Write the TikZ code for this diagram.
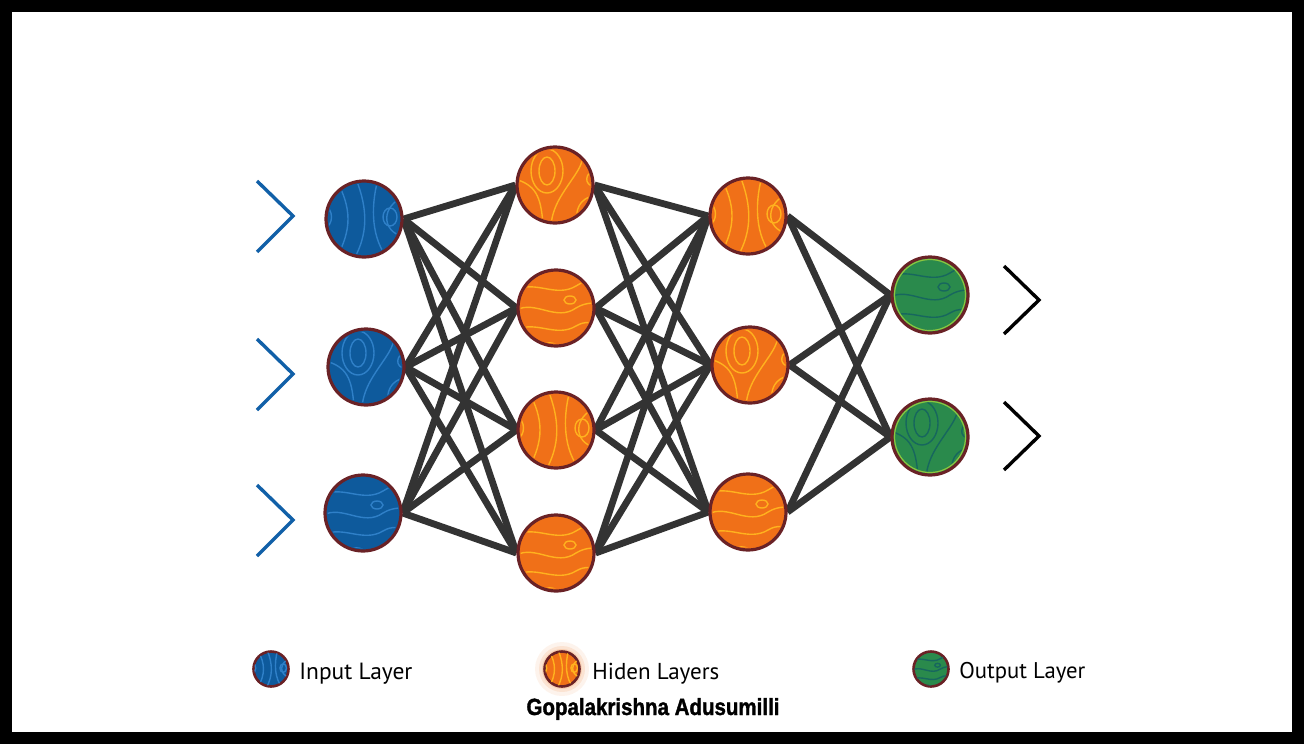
\documentclass[tikz,border=0pt]{standalone}
\usepackage{graphicx}
\usepackage{fontspec}
\setmainfont{PT Sans}
\newfontfamily\authorfont[FakeBold=1.6]{Liberation Sans}
\usetikzlibrary{backgrounds}
\definecolor{inblue}{HTML}{0E5A9C}
\definecolor{inline}{HTML}{2F80C8}
\definecolor{hidor}{HTML}{F07018}
\definecolor{hidline}{HTML}{FFB21E}
\definecolor{outgr}{HTML}{2A8A4C}
\definecolor{ogline}{HTML}{17675E}
\definecolor{ogrim}{HTML}{8CC63F}
\definecolor{rim}{HTML}{6A2226}
\definecolor{edgegray}{HTML}{333333}
\definecolor{chevblue}{HTML}{1160A8}
\newcommand\patA{%
  \draw (-28,-40) .. controls (-12,-10) and (-12,10) .. (-28,40);
  \draw (-8,-40) .. controls (4,-10) and (4,15) .. (-10,40);
  \draw (14,-40) .. controls (6,-10) and (8,20) .. (24,40);
  \draw (26,-2) ellipse (7 and 9);
  \draw (40,-22) .. controls (18,-14) and (16,12) .. (40,18);
  \draw (-40,-14) .. controls (-30,-10) and (-30,6) .. (-40,10);}
\newcommand\patB{%
  \draw (-8,-14) ellipse (8 and 14);
  \draw (-8,-14) ellipse (16 and 22);
  \draw (-40,-6) .. controls (-20,0) and (-14,10) .. (-12,40);
  \draw (-4,40) .. controls (-2,20) and (8,8) .. (20,-10) .. controls (28,-22) and (30,-30) .. (26,-40);
  \draw (40,10) .. controls (24,14) and (20,24) .. (22,40);
  \draw (40,-16) .. controls (30,-12) and (28,0) .. (40,2);}
\newcommand\patC{%
  \draw (-40,-18) .. controls (-20,-28) and (0,-10) .. (20,-22) .. controls (30,-28) and (36,-30) .. (40,-30);
  \draw (-40,2) .. controls (-20,-8) and (0,14) .. (20,0) .. controls (30,-6) and (36,-4) .. (40,-6);
  \draw (-40,22) .. controls (-20,12) and (0,30) .. (20,18) .. controls (30,12) and (36,16) .. (40,14);
  \draw (14,-8) ellipse (6 and 4);
  \draw (-20,40) .. controls (-14,32) and (0,34) .. (6,40);}
\newcommand\deco[4]{%
  \begin{scope}[shift={(#1.center)},scale=#4]
    \clip (0,0) circle (35.5);
    \begin{scope}[draw=#2,line width=0.7pt]
      #3
    \end{scope}
  \end{scope}}
\begin{document}
\begin{tikzpicture}[x=0.5pt,y=-0.5pt,
  neuron/.style={circle,draw=rim,line width=1.6pt,minimum size=38pt,inner sep=0pt},
  innode/.style={neuron,fill=inblue},
  hidnode/.style={neuron,fill=hidor},
  outnode/.style={neuron,fill=outgr},
  legnode/.style={minimum size=17.5pt,line width=1.3pt},
  link/.style={draw=edgegray,line width=3.4pt},
  chev/.style={line width=1.7pt,line join=miter},
  legtext/.style={anchor=base west,inner sep=0pt,font=\fontsize{12}{14}\selectfont}]
\useasboundingbox (0,0) rectangle (1304,744);
% neurons
\node[innode] (i1) at (364,219) {};
\node[innode] (i2) at (366,367) {};
\node[innode] (i3) at (363,513) {};
\node[hidnode] (h1) at (555,185) {};
\node[hidnode] (h2) at (556,308) {};
\node[hidnode] (h3) at (556,430) {};
\node[hidnode] (h4) at (556,553) {};
\node[hidnode] (k1) at (748,216) {};
\node[hidnode] (k2) at (750,365) {};
\node[hidnode] (k3) at (748,512) {};
\node[outnode] (o1) at (930,295) {};
\node[outnode] (o2) at (930,437) {};
% background frame and links
\begin{pgfonlayer}{background}
  \fill[black] (0,0) rectangle (1304,744);
  \fill[white] (12,12) rectangle (1292,732);
  \foreach \a in {i1,i2,i3}{\foreach \b in {h1,h2,h3,h4}{\draw[link] (\a.east) -- (\b.west);}}
  \foreach \a in {h1,h2,h3,h4}{\foreach \b in {k1,k2,k3}{\draw[link] (\a.east) -- (\b.west);}}
  \foreach \a in {k1,k2,k3}{\foreach \b in {o1,o2}{\draw[link] (\a.east) -- (\b.west);}}
\end{pgfonlayer}
% contour decorations
\deco{i1}{inline}{\patA}{1}
\deco{i2}{inline}{\patB}{1}
\deco{i3}{inline}{\patC}{1}
\deco{h1}{hidline}{\patB}{1}
\deco{h2}{hidline}{\patC}{1}
\deco{h3}{hidline}{\patA}{1}
\deco{h4}{hidline}{\patC}{1}
\deco{k1}{hidline}{\patA}{1}
\deco{k2}{hidline}{\patB}{1}
\deco{k3}{hidline}{\patC}{1}
\deco{o1}{ogline}{\patC}{1}
\deco{o2}{ogline}{\patB}{1}
\draw[ogrim,line width=0.6pt] (o1.center) circle (35.5);
\draw[ogrim,line width=0.6pt] (o2.center) circle (35.5);
% chevrons
\draw[chev,chevblue] (257,181) -- (293,216) -- (257,252);
\draw[chev,chevblue] (257,339) -- (293,374) -- (257,410);
\draw[chev,chevblue] (257,485) -- (293,520) -- (257,556);
\draw[chev,black] (1004,266) -- (1039,300) -- (1004,334);
\draw[chev,black] (1004,402) -- (1039,436) -- (1004,470);
% legend
\fill[hidor,opacity=0.08] (562,669) circle (27);
\fill[hidor,opacity=0.12] (562,669) circle (23);
\fill[hidor,opacity=0.16] (562,669) circle (20);
\node[innode,legnode] (li) at (271,669) {};
\node[hidnode,legnode] (lh) at (562,669) {};
\node[outnode,legnode] (lo) at (931,669) {};
\deco{li}{inline}{\patA}{0.47}
\deco{lh}{hidline}{\patA}{0.47}
\deco{lo}{ogline}{\patC}{0.47}
\node[legtext] (ti) at (299,679) {\resizebox{56.5pt}{!}{Input Layer}};
\node[legtext] (th) at (592,679) {\resizebox{63.5pt}{!}{Hiden Layers}};
\node[legtext] (to) at (959,678) {\resizebox{63pt}{!}{Output Layer}};
\node[anchor=base,inner sep=0pt] (au) at (653,715) {\resizebox{126.5pt}{8.5pt}{\authorfont\bfseries Gopalakrishna Adusumilli}};
\end{tikzpicture}
\end{document}
